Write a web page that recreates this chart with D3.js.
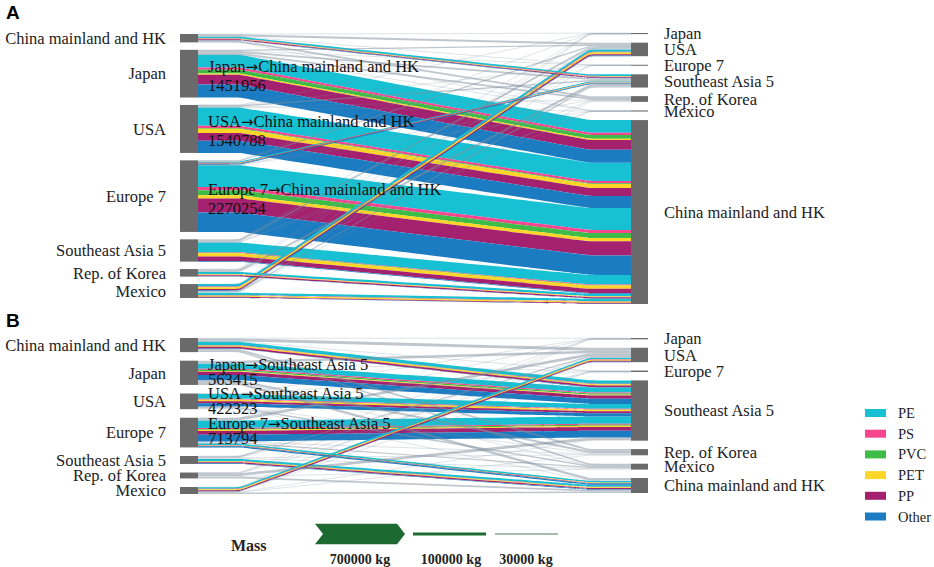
<!DOCTYPE html>
<html><head><meta charset="utf-8">
<script src="https://cdn.jsdelivr.net/npm/d3@7"></script>
<style>body{margin:0;background:#fff}svg{display:block}</style>
</head><body><svg id="chart" width="934" height="567"></svg>
<script>
const materials = ["PE","PS","PVC","PET","PP","Other"];
const materialColors = ["#17c1d3","#f5468f","#3dbd48","#fdd628","#a4216f","#1b7cc2"];
const exporters = ["China mainland and HK","Japan","USA","Europe 7","Southeast Asia 5","Rep. of Korea","Mexico"];
const importers = ["Japan","USA","Europe 7","Southeast Asia 5","Rep. of Korea","Mexico","China mainland and HK"];

// Panel A — main flows by material (kg): [exporter, importer, PE, PS, PVC, PET, PP, Other]
const flowsA = [
  ["Japan","China mainland and HK",430000,75000,130000,45000,330000,441956],
  ["USA","China mainland and HK",620000,75000,25000,140000,270000,410788],
  ["Europe 7","China mainland and HK",740000,110000,170000,110000,480000,660254],
  ["Southeast Asia 5","China mainland and HK",330000,20000,15000,110000,150000,25000],
  ["Rep. of Korea","China mainland and HK",70000,10000,5000,25000,40000,10000],
  ["Mexico","China mainland and HK",80000,15000,5000,40000,30000,10000],
  ["Mexico","USA",80000,20000,5000,60000,45000,20000],
  ["China mainland and HK","Southeast Asia 5",55000,15000,5000,15000,30000,10000],
  ["Europe 7","Southeast Asia 5",35000,10000,5000,10000,15000,25000]
];
// Panel A — minor flows, total kg
const minorA = [
  ["China mainland and HK","Japan",10000],["China mainland and HK","USA",70000],["China mainland and HK","Europe 7",10000],
  ["China mainland and HK","Rep. of Korea",60000],["China mainland and HK","Mexico",5000],
  ["Japan","USA",40000],["Japan","Europe 7",5000],["Japan","Southeast Asia 5",60000],["Japan","Rep. of Korea",60000],["Japan","Mexico",5000],
  ["USA","Japan",5000],["USA","Europe 7",5000],["USA","Southeast Asia 5",50000],["USA","Rep. of Korea",10000],["USA","Mexico",20000],
  ["Europe 7","Japan",5000],["Europe 7","USA",40000],["Europe 7","Rep. of Korea",15000],["Europe 7","Mexico",3000],
  ["Southeast Asia 5","Japan",10000],["Southeast Asia 5","USA",60000],["Southeast Asia 5","Europe 7",5000],["Southeast Asia 5","Rep. of Korea",30000],["Southeast Asia 5","Mexico",2000],
  ["Rep. of Korea","Japan",5000],["Rep. of Korea","USA",20000],["Rep. of Korea","Southeast Asia 5",70000],["Rep. of Korea","Mexico",2000],
  ["Mexico","Japan",2000],["Mexico","Europe 7",2000],["Mexico","Southeast Asia 5",40000],["Mexico","Rep. of Korea",20000]
];
const labelsA = [["Japan","China mainland and HK"],["USA","China mainland and HK"],["Europe 7","China mainland and HK"]];

// Panel B
const flowsB = [
  ["China mainland and HK","Southeast Asia 5",110000,15000,5000,40000,60000,10000],
  ["Japan","Southeast Asia 5",170000,35000,45000,25000,110000,178415],
  ["USA","Southeast Asia 5",160000,25000,10000,50000,70000,107323],
  ["Europe 7","Southeast Asia 5",250000,35000,30000,40000,130000,228794],
  ["Europe 7","China mainland and HK",50000,5000,5000,10000,20000,40000],
  ["Southeast Asia 5","China mainland and HK",70000,10000,5000,25000,40000,20000],
  ["Mexico","USA",55000,10000,5000,35000,35000,10000]
];
const minorB = [
  ["China mainland and HK","Japan",15000],["China mainland and HK","USA",100000],["China mainland and HK","Europe 7",15000],
  ["China mainland and HK","Rep. of Korea",60000],["China mainland and HK","Mexico",50000],
  ["Japan","USA",90000],["Japan","Europe 7",10000],["Japan","Rep. of Korea",70000],["Japan","Mexico",10000],["Japan","China mainland and HK",80000],
  ["USA","Japan",10000],["USA","Europe 7",10000],["USA","Rep. of Korea",20000],["USA","Mexico",50000],["USA","China mainland and HK",20000],
  ["Europe 7","Japan",5000],["Europe 7","USA",90000],["Europe 7","Rep. of Korea",30000],["Europe 7","Mexico",40000],
  ["Southeast Asia 5","Japan",5000],["Southeast Asia 5","USA",40000],["Southeast Asia 5","Europe 7",5000],["Southeast Asia 5","Rep. of Korea",20000],["Southeast Asia 5","Mexico",30000],
  ["Rep. of Korea","Japan",5000],["Rep. of Korea","USA",20000],["Rep. of Korea","Europe 7",5000],["Rep. of Korea","Southeast Asia 5",90000],["Rep. of Korea","Mexico",20000],["Rep. of Korea","China mainland and HK",60000],
  ["Mexico","Japan",5000],["Mexico","Europe 7",3000],["Mexico","Southeast Asia 5",20000],["Mexico","Rep. of Korea",10000],["Mexico","China mainland and HK",50000]
];
const labelsB = [["Japan","Southeast Asia 5"],["USA","Southeast Asia 5"],["Europe 7","Southeast Asia 5"]];

const massLegend = [700000, 100000, 30000];

// ---------------------------------------------------------------
const svg = d3.select("#chart");
const W = d3.scaleLinear().domain([0, 700000]).range([0, 700000/34000]);
const SERIF = "'Liberation Serif','Times New Roman',serif";
const NODE_L = [180, 198], NODE_R = [631, 648];
const XS = NODE_L[1], XT = NODE_R[0];

function layout(major, minor, extL, extR) {
  const left = exporters.map((name, i) => ({name, i, links: []}));
  const right = importers.map((name, i) => ({name, i, links: []}));
  const links = [];
  major.forEach(r => links.push({s: r[0], t: r[1], parts: r.slice(2), value: d3.sum(r.slice(2))}));
  minor.forEach(r => links.push({s: r[0], t: r[1], parts: null, value: r[2]}));
  links.forEach(l => {
    l.src = left[exporters.indexOf(l.s)];
    l.tgt = right[importers.indexOf(l.t)];
    l.w = W(l.value);
    l.src.links.push(l); l.tgt.links.push(l);
  });
  function place(nodes, ext) {
    nodes.forEach(n => n.h = Math.max(1, d3.sum(n.links, l => l.w)));
    const pad = (ext[1] - ext[0] - d3.sum(nodes, n => n.h)) / (nodes.length - 1);
    let y = ext[0];
    nodes.forEach(n => { n.y0 = y; n.y1 = y + n.h; y = n.y1 + pad; });
  }
  place(left, extL); place(right, extR);
  left.forEach(n => { let y = n.y0; n.links.sort((a, b) => a.tgt.i - b.tgt.i).forEach(l => { l.ys = y; y += l.w; }); });
  right.forEach(n => { let y = n.y0; n.links.sort((a, b) => a.src.i - b.src.i).forEach(l => { l.yt = y; y += l.w; }); });
  return {left, right, links};
}

function edge(ys, yt) {
  const xa = XS + 42, xb = XT - 42, r = 7, m = (yt - ys) / (xb - xa);
  return [[XS, ys], [xa - r, ys], [xa, ys], [xa + r, ys + m * r], [xb - r, yt - m * r], [xb, yt], [xb + r, yt], [XT, yt]];
}
const area = d3.area().x(d => d[0]).y0(d => d[1]).y1(d => d[2]).curve(d3.curveBasis);
const line = d3.line().curve(d3.curveBasis);

function drawPanel(g, L, lineGap, labels) {
  const order = L.links.slice().sort((a, b) => b.value - a.value);
  order.forEach(l => {
    if (l.parts) {
      let off = 0;
      l.parts.forEach((v, k) => {
        const h = W(v);
        const top = edge(l.ys + off, l.yt + off), bot = edge(l.ys + off + h, l.yt + off + h);
        g.append("path").attr("d", area(top.map((p, j) => [p[0], p[1], bot[j][1]])))
          .attr("fill", materialColors[k]);
        off += h;
      });
    } else {
      g.append("path").attr("d", line(edge(l.ys + l.w / 2, l.yt + l.w / 2)))
        .attr("fill", "none").attr("stroke", "#7f909e")
        .attr("stroke-opacity", l.value >= 40000 ? 0.5 : 0.3).attr("stroke-width", Math.max(0.8, l.w));
    }
  });
  g.selectAll(".nl").data(L.left).join("rect")
    .attr("x", NODE_L[0]).attr("width", NODE_L[1] - NODE_L[0])
    .attr("y", d => d.y0).attr("height", d => d.h).attr("fill", "#6a6a6a");
  g.selectAll(".nr").data(L.right).join("rect")
    .attr("x", NODE_R[0]).attr("width", NODE_R[1] - NODE_R[0])
    .attr("y", d => d.y0).attr("height", d => d.h).attr("fill", "#6a6a6a");
  g.selectAll(".tl").data(L.left).join("text")
    .attr("x", 166).attr("y", d => (d.y0 + d.y1) / 2).attr("dy", "0.35em")
    .attr("text-anchor", "end").attr("font-family", SERIF).attr("font-size", 16.5)
    .attr("fill", "#222").text(d => d.name);
  g.selectAll(".tr").data(L.right).join("text")
    .attr("x", 664).attr("y", d => (d.y0 + d.y1) / 2).attr("dy", "0.35em")
    .attr("font-family", SERIF).attr("font-size", 16.5)
    .attr("fill", "#222").text(d => d.name);
  labels.forEach(([s, t]) => {
    const l = L.links.find(x => x.s === s && x.t === t);
    const cy = l.ys + l.w / 2;
    const txt = g.append("text").attr("font-family", SERIF).attr("font-size", 16.5).attr("fill", "#111");
    txt.append("tspan").attr("x", XS + 10).attr("y", cy - lineGap / 2).attr("dy", "0.35em").text(s);
    txt.append("tspan").attr("font-family", "'DejaVu Sans',sans-serif").attr("font-size", 15).text("\u2192");
    txt.append("tspan").text(t);
    txt.append("tspan").attr("x", XS + 10).attr("y", cy + lineGap / 2).attr("dy", "0.35em").text(String(l.value));
  });
}

const LA = layout(flowsA, minorA, [34, 298], [33, 304]);
const LB = layout(flowsB, minorB, [338, 494], [338, 493]);
drawPanel(svg.append("g"), LA, 19, labelsA);
drawPanel(svg.append("g"), LB, 15, labelsB);

svg.append("text").attr("x", 6).attr("y", 19).attr("font-family", "'Liberation Sans',Arial,sans-serif")
  .attr("font-weight", "bold").attr("font-size", 19).text("A");
svg.append("text").attr("x", 6).attr("y", 327).attr("font-family", "'Liberation Sans',Arial,sans-serif")
  .attr("font-weight", "bold").attr("font-size", 19).text("B");

// material legend
const lg = svg.append("g");
materials.forEach((m, i) => {
  const cy = 413 + i * 20.7;
  lg.append("rect").attr("x", 865).attr("y", cy - 4).attr("width", 21).attr("height", 8).attr("fill", materialColors[i]);
  lg.append("text").attr("x", 898).attr("y", cy).attr("dy", "0.35em").attr("font-family", SERIF)
    .attr("font-size", 14.5).attr("fill", "#222").text(m);
});

// mass legend
const mg = svg.append("g");
mg.append("text").attr("x", 231).attr("y", 545).attr("dy", "0.35em").attr("font-family", SERIF)
  .attr("font-weight", "bold").attr("font-size", 16).attr("fill", "#222").text("Mass");
const hBig = W(massLegend[0]), cyM = 534;
mg.append("path").attr("d", d3.line()([[315, cyM - hBig / 2], [397, cyM - hBig / 2], [405, cyM], [397, cyM + hBig / 2], [315, cyM + hBig / 2], [323, cyM]]) + "Z")
  .attr("fill", "#1c6a31");
mg.append("line").attr("x1", 413).attr("x2", 486).attr("y1", cyM).attr("y2", cyM)
  .attr("stroke", "#1c6a31").attr("stroke-width", W(massLegend[1]));
mg.append("line").attr("x1", 495).attr("x2", 558).attr("y1", cyM).attr("y2", cyM)
  .attr("stroke", "#4f7a62").attr("stroke-width", Math.max(1.2, W(massLegend[2])));
[[360, massLegend[0]], [451, massLegend[1]], [526, massLegend[2]]].forEach(([x, v]) => {
  mg.append("text").attr("x", x).attr("y", 559).attr("dy", "0.35em").attr("text-anchor", "middle")
    .attr("font-family", SERIF).attr("font-weight", "bold").attr("font-size", 14).attr("fill", "#222")
    .text(v + " kg");
});
</script></body></html>
